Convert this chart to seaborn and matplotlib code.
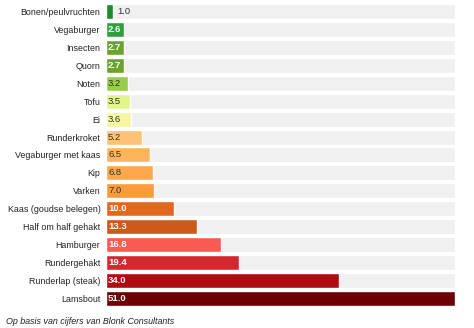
import matplotlib
matplotlib.use("Agg")
import matplotlib.pyplot as plt
import seaborn as sns
import pandas as pd

categories = ["Bonen/peulvruchten", "Vegaburger", "Insecten", "Quorn", "Noten", "Tofu", "Ei",
              "Runderkroket", "Vegaburger met kaas", "Kip", "Varken", "Kaas (goudse belegen)",
              "Half om half gehakt", "Hamburger", "Rundergehakt", "Runderlap (steak)", "Lamsbout"]
values = [1.0, 2.6, 2.7, 2.7, 3.2, 3.5, 3.6, 5.2, 6.5, 6.8, 7.0, 10.0, 13.3, 16.8, 19.4, 34.0, 51.0]
colors = ["#1b8a30", "#2f9e3c", "#6ba42c", "#6ba42c", "#98cd4c", "#e2f58c", "#f6f6a2",
          "#fdc276", "#fdb45c", "#fda84e", "#fd9a3a", "#e0691f", "#cc5a1a", "#f95a52",
          "#d32830", "#b00a12", "#6c0006"]
label_colors = ["#333333", "white", "white", "white", "#333333", "#333333", "#333333",
                "#333333", "#333333", "#333333", "#333333", "white", "white", "white",
                "white", "white", "white"]
footer = "Op basis van cijfers van Blonk Consultants"

df = pd.DataFrame({"cat": categories, "val": values})
df["track"] = max(values)

sns.set_theme(style="white")
plt.rcParams["font.family"] = ["Liberation Sans", "DejaVu Sans"]

fig = plt.figure(figsize=(4.74, 3.28), dpi=100)
ax = fig.add_axes([0.2236, 0.064, 0.96 - 0.2236, 0.927])

sns.barplot(data=df, x="track", y="cat", color="#f0f0f0", width=0.84, ax=ax,
            saturation=1, order=categories)
sns.barplot(data=df, x="val", y="cat", hue="cat", palette=colors, width=0.84, ax=ax,
            saturation=1, order=categories, hue_order=categories, legend=False)

ax.set_xlim(0, max(values))
ax.set_ylim(len(categories) - 0.5, -0.5)
ax.set_xlabel("")
ax.set_ylabel("")
ax.set_xticks([])
ax.tick_params(axis="y", length=0, pad=4, labelsize=6.4, labelcolor="#222222")
for s in ax.spines.values():
    s.set_visible(False)

for i, (v, c) in enumerate(zip(values, label_colors)):
    if i == 0:
        x = v + 0.6
    else:
        x = 0.3
    ax.text(x, i, f"{v:.1f}", va="center", ha="left", fontsize=6.8, color=c,
            fontweight="bold" if c == "white" else "normal")

fig.text(0.013, 0.012, footer, fontsize=6.4, style="italic", color="#222222")

fig.savefig("out.png", dpi=100)
